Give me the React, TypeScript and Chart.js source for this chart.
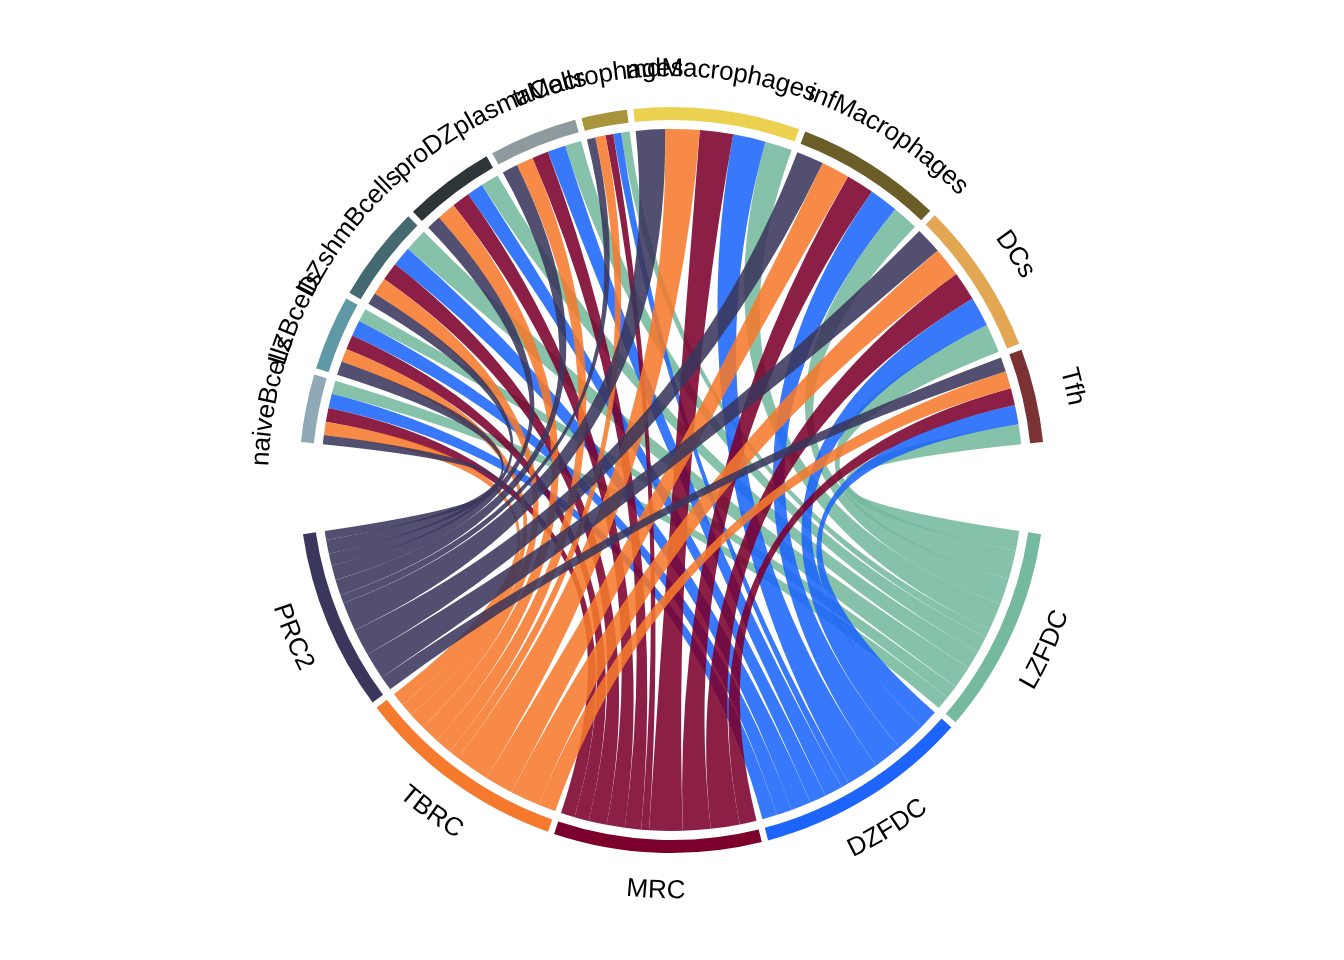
import React, { useEffect, useRef } from "react";
import { Chart, registerables } from "chart.js";

Chart.register(...registerables);

// ---- data ----
const sources = ["PRC2", "TBRC", "MRC", "DZFDC", "LZFDC"];
const targets = [
  "naiveBcells",
  "LZBcells",
  "DZshmBcells",
  "proDZ",
  "plasmaCells",
  "trMacrophages",
  "mdMacrophages",
  "infMacrophages",
  "DCs",
  "Tfh",
];
// link strengths from each source to each target (same order as targets)
const prc2Links = [1.5, 2.3, 2.0, 2.4, 2.6, 1.4, 4.8, 4.5, 4.4, 2.4];
const tbrcLinks = [2.2, 2.2, 2.8, 3.1, 2.8, 1.7, 5.7, 4.7, 4.9, 2.9];
const mrcLinks = [2.3, 2.4, 3.0, 3.0, 2.7, 1.3, 5.5, 4.6, 4.8, 2.8];
const dzfdcLinks = [2.4, 2.6, 3.3, 2.7, 3.0, 1.3, 5.4, 4.8, 4.9, 3.2];
const lzfdcLinks = [2.2, 2.2, 3.8, 3.0, 2.7, 1.4, 4.5, 4.3, 4.8, 3.3];
const links = [prc2Links, tbrcLinks, mrcLinks, dzfdcLinks, lzfdcLinks];

const sourceColors = ["#3B375C", "#F67A2D", "#7C002C", "#1D65FA", "#75B99E"];
const targetColors = [
  "#8FA9B6",
  "#5F99A6",
  "#456970",
  "#2E3538",
  "#8E9A9D",
  "#A8943A",
  "#ECD04F",
  "#6A5D28",
  "#E3A753",
  "#7B3233",
];

// ---- layout constants ----
const W = 1344;
const H = 960;
const OUTER_R = 373;
const INNER_R = 360;
const RIBBON_GAP = 9;
const LABEL_R = 411;
const SMALL_GAP_DEG = 1;
const BIG_GAP_DEG = 14.2;
const RIBBON_ALPHA = 0.88;

function hexToRgba(hex: string, a: number) {
  const n = parseInt(hex.slice(1), 16);
  return `rgba(${(n >> 16) & 255},${(n >> 8) & 255},${n & 255},${a})`;
}

type RingItem = { label: string; value: number; color: string; kind: "s" | "t" | "gap"; idx: number };

function buildRing() {
  const sourceTotals = links.map((row) => row.reduce((a, b) => a + b, 0));
  const targetTotals = targets.map((_, t) => links.reduce((a, row) => a + row[t], 0));
  const total = sourceTotals.reduce((a, b) => a + b, 0);
  const nGaps = sources.length - 1 + targets.length - 1;
  const sectorDeg = 360 - nGaps * SMALL_GAP_DEG - 2 * BIG_GAP_DEG;
  const unitsPerDeg = (2 * total) / sectorDeg;
  const small = SMALL_GAP_DEG * unitsPerDeg;
  const big = BIG_GAP_DEG * unitsPerDeg;
  const ring: RingItem[] = [];
  // clockwise: LZFDC ... PRC2, big gap, naiveBcells ... Tfh, big gap
  for (let k = sources.length - 1; k >= 0; k--) {
    ring.push({ label: sources[k], value: sourceTotals[k], color: sourceColors[k], kind: "s", idx: k });
    if (k > 0) ring.push({ label: "", value: small, color: "rgba(0,0,0,0)", kind: "gap", idx: -1 });
  }
  ring.push({ label: "", value: big, color: "rgba(0,0,0,0)", kind: "gap", idx: -1 });
  targets.forEach((name, t) => {
    ring.push({ label: name, value: targetTotals[t], color: targetColors[t], kind: "t", idx: t });
    if (t < targets.length - 1) ring.push({ label: "", value: small, color: "rgba(0,0,0,0)", kind: "gap", idx: -1 });
  });
  ring.push({ label: "", value: big, color: "rgba(0,0,0,0)", kind: "gap", idx: -1 });
  const sourceBlockDeg = total / unitsPerDeg + (sources.length - 1) * SMALL_GAP_DEG;
  const startDeg = 90 - sourceBlockDeg / 2; // source block centred at the bottom
  return { ring, rotation: startDeg + 90 };
}

function drawCurvedText(
  ctx: CanvasRenderingContext2D,
  text: string,
  cx: number,
  cy: number,
  R: number,
  mid: number,
  inward: boolean
) {
  const chars = Array.from(text);
  const widths = chars.map((c) => ctx.measureText(c).width);
  const total = widths.reduce((a, b) => a + b, 0);
  let acc = 0;
  chars.forEach((ch, i) => {
    const w = widths[i];
    const off = (acc + w / 2) / R;
    const th = inward ? mid + total / (2 * R) - off : mid - total / (2 * R) + off;
    ctx.save();
    ctx.translate(cx + R * Math.cos(th), cy + R * Math.sin(th));
    ctx.rotate(inward ? th - Math.PI / 2 : th + Math.PI / 2);
    ctx.fillText(ch, 0, 0);
    ctx.restore();
    acc += w;
  });
}

const chordPlugin = {
  id: "chordRibbons",
  afterDatasetsDraw(chart: any) {
    const ctx: CanvasRenderingContext2D = chart.ctx;
    const meta = chart.getDatasetMeta(0);
    const ring: RingItem[] = chart.data.datasets[0].ringItems;
    const arcs = meta.data as any[];
    const srcArc: any[] = [];
    const tgtArc: any[] = [];
    ring.forEach((it, i) => {
      if (it.kind === "s") srcArc[it.idx] = arcs[i];
      if (it.kind === "t") tgtArc[it.idx] = arcs[i];
    });
    const cx = arcs[0].x;
    const cy = arcs[0].y;
    const r = arcs[0].innerRadius - RIBBON_GAP;

    // positions within source sectors: targets in reverse order
    const srcPos: number[][] = sources.map(() => []);
    sources.forEach((_, s) => {
      const a = srcArc[s];
      const tot = links[s].reduce((p, q) => p + q, 0);
      const k = (a.endAngle - a.startAngle) / tot;
      let acc = a.startAngle;
      for (let t = targets.length - 1; t >= 0; t--) {
        srcPos[s][t] = acc;
        acc += links[s][t] * k;
      }
    });
    const tgtPos: number[][] = sources.map(() => []);
    targets.forEach((_, t) => {
      const a = tgtArc[t];
      const tot = links.reduce((p, row) => p + row[t], 0);
      const k = (a.endAngle - a.startAngle) / tot;
      let acc = a.startAngle;
      for (let s = 0; s < sources.length; s++) {
        tgtPos[s][t] = acc;
        acc += links[s][t] * k;
      }
    });

    ctx.save();
    for (let s = sources.length - 1; s >= 0; s--) {
      const sa = srcArc[s];
      const ks = (sa.endAngle - sa.startAngle) / links[s].reduce((p, q) => p + q, 0);
      for (let t = 0; t < targets.length; t++) {
        const ta = tgtArc[t];
        const kt = (ta.endAngle - ta.startAngle) / links.reduce((p, row) => p + row[t], 0);
        const a1 = srcPos[s][t];
        const a2 = a1 + links[s][t] * ks;
        const b1 = tgtPos[s][t];
        const b2 = b1 + links[s][t] * kt;
        ctx.beginPath();
        ctx.arc(cx, cy, r, a1, a2);
        ctx.quadraticCurveTo(cx, cy, cx + r * Math.cos(b1), cy + r * Math.sin(b1));
        ctx.arc(cx, cy, r, b1, b2);
        ctx.quadraticCurveTo(cx, cy, cx + r * Math.cos(a1), cy + r * Math.sin(a1));
        ctx.closePath();
        ctx.fillStyle = hexToRgba(sourceColors[s], RIBBON_ALPHA);
        ctx.fill();
      }
    }

    // labels
    ctx.fillStyle = "#000000";
    ctx.font = "26px 'Liberation Sans', Arial, sans-serif";
    ctx.textAlign = "center";
    ctx.textBaseline = "middle";
    ring.forEach((it, i) => {
      if (it.kind === "gap") return;
      const a = arcs[i];
      let mid = (a.startAngle + a.endAngle) / 2;
      mid = ((mid % (2 * Math.PI)) + 2 * Math.PI) % (2 * Math.PI);
      const inward = Math.sin(mid) > 0;
      drawCurvedText(ctx, it.label, cx, cy, LABEL_R, mid, inward);
    });
    ctx.restore();
  },
};

export default function App() {
  const ref = useRef<HTMLCanvasElement | null>(null);
  useEffect(() => {
    if (!ref.current) return;
    const { ring, rotation } = buildRing();
    const chart = new Chart(ref.current, {
      type: "doughnut",
      data: {
        labels: ring.map((r) => r.label),
        datasets: [
          {
            data: ring.map((r) => r.value),
            backgroundColor: ring.map((r) => r.color),
            borderWidth: 0,
            hoverOffset: 0,
            offset: 0,
            spacing: 0,
            ringItems: ring,
          } as any,
        ],
      },
      options: {
        responsive: false,
        animation: false,
        events: [],
        rotation,
        circumference: 360,
        cutout: INNER_R,
        radius: OUTER_R,
        layout: { padding: { top: 480 - OUTER_R, bottom: H - 480 - OUTER_R, left: 0, right: 0 } },
        plugins: { legend: { display: false }, tooltip: { enabled: false } },
      } as any,
      plugins: [chordPlugin],
    });
    return () => chart.destroy();
  }, []);
  return (
    <div style={{ position: "fixed", left: 0, top: 0, width: W, height: H, background: "#fff" }}>
      <canvas ref={ref} width={W} height={H} style={{ display: "block" }} />
    </div>
  );
}
